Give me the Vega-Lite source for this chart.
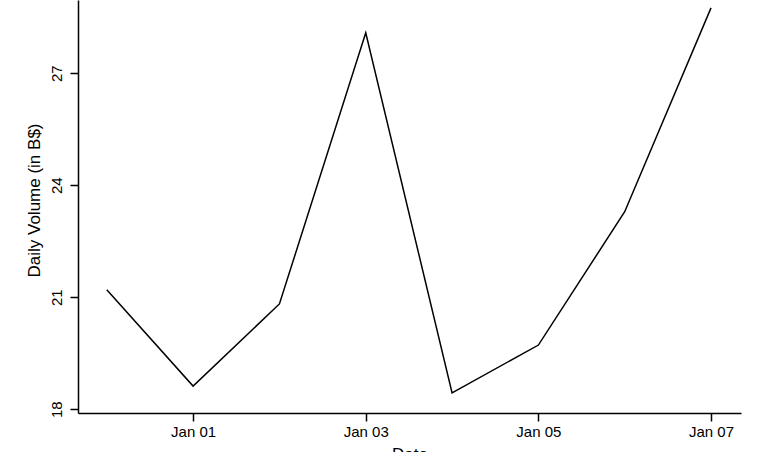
{
  "$schema": "https://vega.github.io/schema/vega-lite/v6.json",
  "width": 663,
  "height": 413,
  "autosize": {"type": "none"},
  "padding": {"left": 78, "top": 0, "right": 27, "bottom": 39},
  "background": "white",
  "config": {
    "view": {"stroke": null},
    "font": "Liberation Sans",
    "axis": {
      "grid": false,
      "domainColor": "black",
      "domainWidth": 1.5,
      "tickColor": "black",
      "tickWidth": 1.5,
      "tickSize": 8,
      "labelColor": "black",
      "titleColor": "black",
      "labelFont": "Liberation Sans",
      "titleFont": "Liberation Sans",
      "labelFontSize": 15,
      "titleFontSize": 17,
      "titleFontWeight": "normal"
    }
  },
  "data": {
    "values": [
      {"date": "2020-12-31", "volume": 21.2},
      {"date": "2021-01-01", "volume": 18.62},
      {"date": "2021-01-02", "volume": 20.82},
      {"date": "2021-01-03", "volume": 28.08},
      {"date": "2021-01-04", "volume": 18.44},
      {"date": "2021-01-05", "volume": 19.72},
      {"date": "2021-01-06", "volume": 23.29},
      {"date": "2021-01-07", "volume": 28.75}
    ]
  },
  "mark": {"type": "line", "color": "black", "strokeWidth": 1.5},
  "encoding": {
    "x": {
      "field": "date",
      "type": "temporal",
      "title": "Date",
      "scale": {
        "type": "utc",
        "domain": [
          {"year": 2020, "month": 12, "date": 30, "hours": 16, "utc": true},
          {"year": 2021, "month": 1, "date": 7, "hours": 8, "minutes": 20, "utc": true}
        ]
      },
      "axis": {
        "values": [
          {"year": 2021, "month": 1, "date": 1, "utc": true},
          {"year": 2021, "month": 1, "date": 3, "utc": true},
          {"year": 2021, "month": 1, "date": 5, "utc": true},
          {"year": 2021, "month": 1, "date": 7, "utc": true}
        ],
        "labelExpr": "utcFormat(datum.value, '%b %d')",
        "labelPadding": 3,
        "titlePadding": 7
      }
    },
    "y": {
      "field": "volume",
      "type": "quantitative",
      "title": "Daily Volume (in B$)",
      "scale": {"domain": [17.9, 28.96], "nice": false, "zero": false},
      "axis": {
        "values": [18, 21, 24, 27],
        "labelAngle": -90,
        "labelAlign": "center",
        "labelBaseline": "bottom",
        "labelPadding": 6,
        "titlePadding": 6,
        "titleY": 200
      }
    }
  }
}
